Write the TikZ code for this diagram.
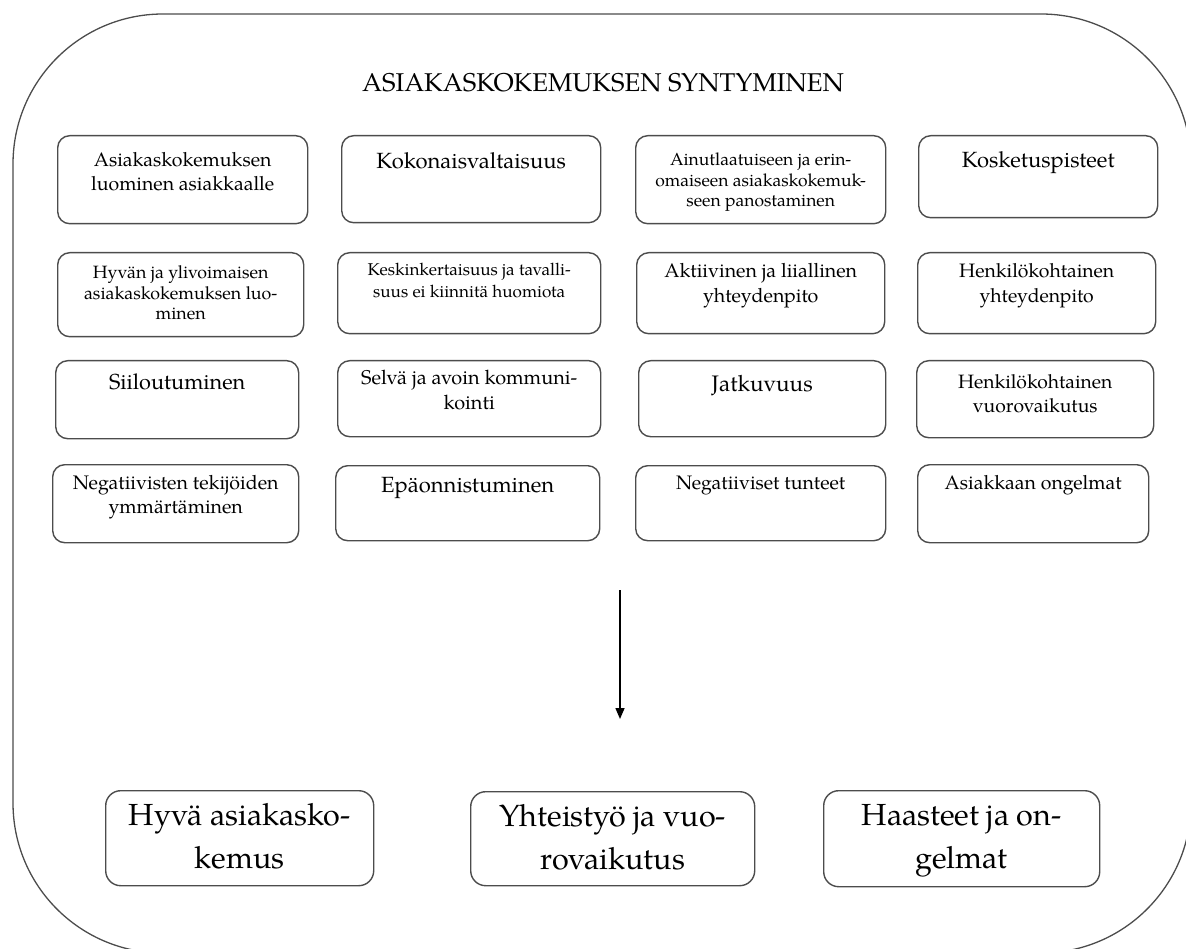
\documentclass[tikz,border=0pt]{standalone}
\usepackage{fontspec}
\setmainfont{TeX Gyre Pagella}
\usetikzlibrary{arrows.meta}
\newcommand\boxtxt[6]{\parbox[c][#2pt][t]{#1pt}{\centering\fontsize{#3pt}{#4pt}\selectfont\rule{0pt}{#5pt}#6\par}}
\tikzset{
  frame/.style={draw=black!70, line width=1.3pt, rounded corners=150pt},
  cell/.style={draw=black!70, line width=1.4pt, rounded corners=12pt, inner sep=0pt, anchor=north west},
  bigcell/.style={cell, rounded corners=15pt},
  flow/.style={draw=black, line width=1.5pt, -{Triangle[width=9pt,length=11pt]}}
}
\begin{document}
\begin{tikzpicture}[x=1pt,y=-1pt]
\useasboundingbox (0,0) rectangle (1186,949);
\clip (0,0) rectangle (1186,949);
\draw[frame] (13,14) rectangle (1191,953);
\node[anchor=base, inner sep=0pt, font=\fontsize{25.7pt}{30pt}\selectfont] (title) at (603,92) {ASIAKASKOKEMUKSEN SYNTYMINEN};
% row 1
\node[cell] (b11) at (57,135) {\boxtxt{250}{88}{19.5}{24}{31}{Asiakaskokemuksen\\luominen asiakkaalle}};
\node[cell] (b12) at (341,135) {\boxtxt{259}{87}{22}{26}{33}{Kokonaisvaltaisuus}};
\node[cell] (b13) at (635,135) {\boxtxt{250}{88}{17.5}{20.5}{30}{Ainutlaatuiseen ja erin-\\omaiseen asiakaskokemuk-\\seen panostaminen}};
\node[cell] (b14) at (918,135) {\boxtxt{239}{82}{22}{26}{32}{Kosketuspisteet}};
% row 2
\node[cell] (b21) at (57,252) {\boxtxt{246}{84}{17.8}{20.5}{26}{Hyvän ja ylivoimaisen\\asiakaskokemuksen luo-\\minen}};
\node[cell] (b22) at (337,252) {\boxtxt{263}{81}{17.1}{22}{23}{Keskinkertaisuus ja tavalli-\\suus ei kiinnitä huomiota}};
\node[cell] (b23) at (636,252) {\boxtxt{248}{81}{19.6}{25}{25}{Aktiivinen ja liiallinen\\yhteydenpito}};
\node[cell] (b24) at (917,252) {\boxtxt{238}{81}{19.4}{25}{25}{Henkilökohtainen\\yhteydenpito}};
% row 3
\node[cell] (b31) at (55,360) {\boxtxt{243}{78}{21.7}{26}{29}{Siiloutuminen}};
\node[cell] (b32) at (337,360) {\boxtxt{263}{76}{19.9}{25}{24}{Selvä ja avoin kommuni-\\kointi}};
\node[cell] (b33) at (638,360) {\boxtxt{247}{76}{22.4}{26}{31}{Jatkuvuus}};
\node[cell] (b34) at (916,360) {\boxtxt{237}{77}{19.3}{24}{28}{Henkilökohtainen\\vuorovaikutus}};
% row 4
\node[cell] (b41) at (52,464) {\boxtxt{246}{78}{19.6}{24}{25}{Negatiivisten tekijöiden\\ymmärtäminen}};
\node[cell] (b42) at (335,465) {\boxtxt{264}{75}{22}{26}{27}{Epäonnistuminen}};
\node[cell] (b43) at (635,465) {\boxtxt{250}{75}{19.5}{24}{24}{Negatiiviset tunteet}};
\node[cell] (b44) at (917,464) {\boxtxt{231}{78}{19.5}{24}{25}{Asiakkaan ongelmat}};
% arrow
\coordinate (a1) at (620,590);
\coordinate (a2) at (620,719);
\draw[flow] (a1) -- (a2);
% bottom
\node[bigcell] (c1) at (105,790) {\boxtxt{268}{95}{30.5}{43}{35}{Hyvä asiakasko-\\kemus}};
\node[bigcell] (c2) at (470,791) {\boxtxt{284}{94}{30.5}{43}{35}{Yhteistyö ja vuo-\\rovaikutus}};
\node[bigcell] (c3) at (823,790) {\boxtxt{276}{96}{30.5}{43}{35}{Haasteet ja on-\\gelmat}};
\end{tikzpicture}
\end{document}
